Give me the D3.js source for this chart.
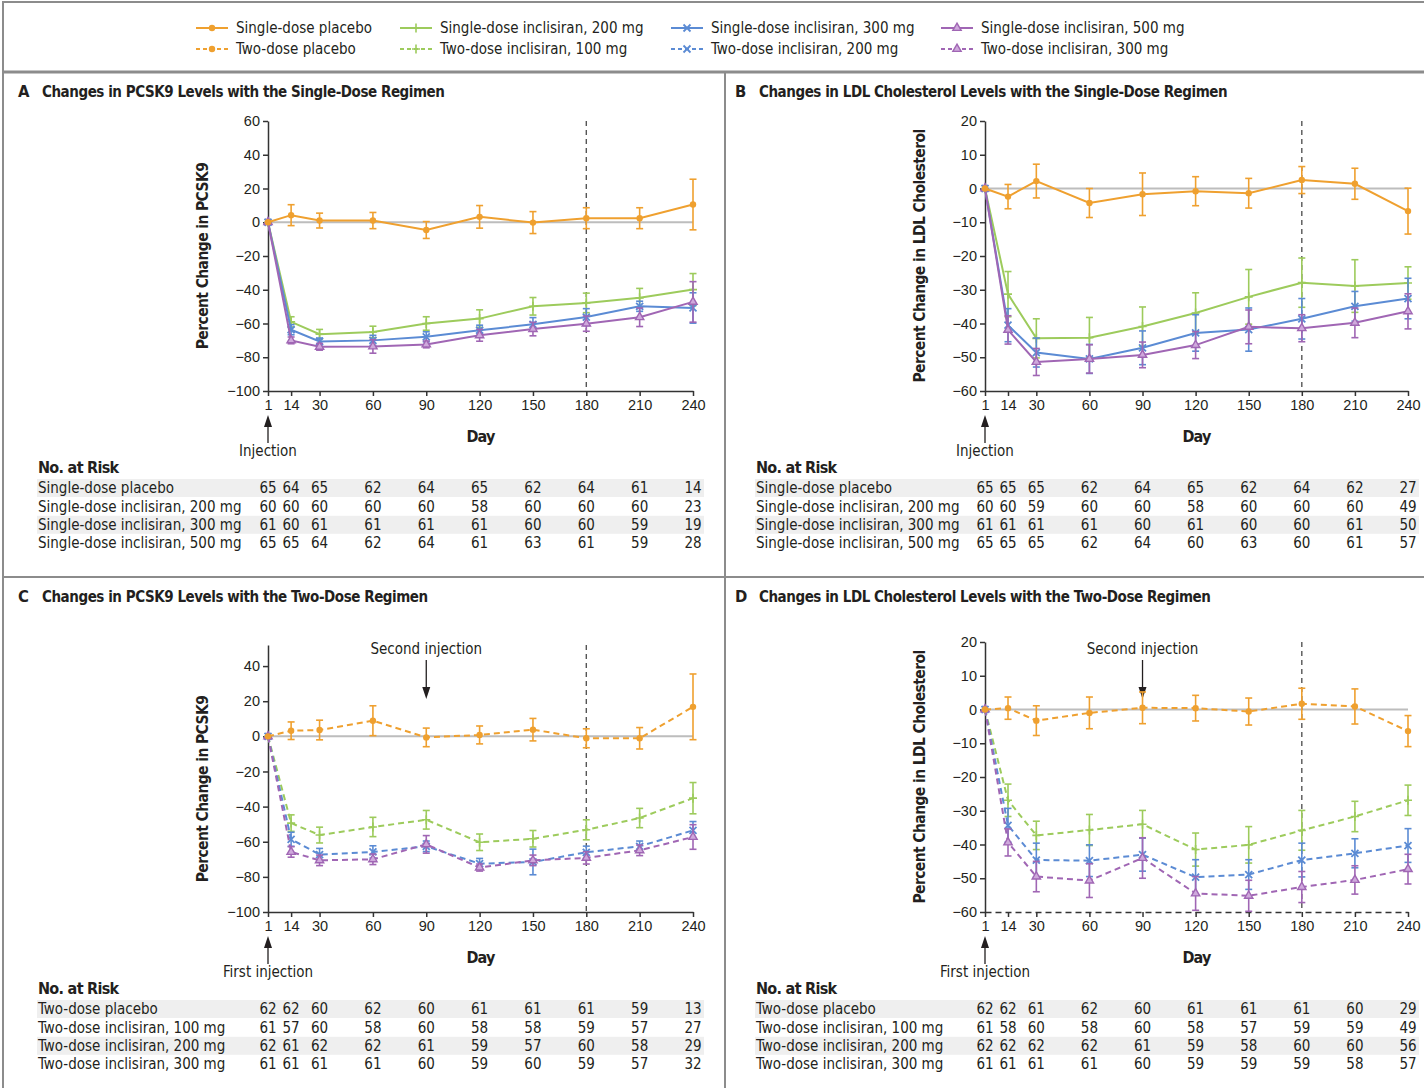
<!DOCTYPE html>
<html>
<head>
<meta charset="utf-8">
<script src="https://cdn.jsdelivr.net/npm/d3@7"></script>
<style>
  body { margin: 0; background: #fff; }
  svg { display: block; font-family: "Liberation Sans Narrow", "DejaVu Sans Condensed", "Liberation Sans", sans-serif; }
</style>
</head>
<body>
<svg id="chart" width="1424" height="1088"></svg>
<script>
const days = [1, 14, 30, 60, 90, 120, 150, 180, 210, 240];
const colors = ["#EFA02F", "#9DCB5C", "#5B8BD4", "#A066B4"];
const markers = ["circle", "plus", "cross", "triangle"];
const singleGroups = ["Single-dose placebo", "Single-dose inclisiran, 200 mg", "Single-dose inclisiran, 300 mg", "Single-dose inclisiran, 500 mg"];
const twoGroups = ["Two-dose placebo", "Two-dose inclisiran, 100 mg", "Two-dose inclisiran, 200 mg", "Two-dose inclisiran, 300 mg"];

// A: PCSK9, single dose
const aMeans = [
  [0, 4.2, 1, 1, -4.6, 3.2, -0.2, 2.4, 2.4, 10.5],
  [0, -59, -66.3, -65, -60, -57.1, -49.8, -47.8, -44.8, -39.9],
  [0, -63.7, -70.6, -70, -67.9, -64, -60.5, -56.2, -49.8, -50.8],
  [0, -70, -73.8, -73.6, -72.4, -67, -63.3, -60.1, -56.3, -47.2]
];
const aErrs = [
  [0, 6.2, 4.4, 4.8, 5, 6.7, 6.5, 6.2, 6.2, 15],
  [0, 3, 2.8, 3.4, 4, 5.2, 5.2, 5.8, 5.6, 9.5],
  [0, 3, 2, 3, 3, 3, 4, 5, 3, 9],
  [0, 2, 2, 4, 2, 3.5, 4, 4.5, 5.5, 12]
];
const aRisk = [
  [65, 64, 65, 62, 64, 65, 62, 64, 61, 14],
  [60, 60, 60, 60, 60, 58, 60, 60, 60, 23],
  [61, 60, 61, 61, 61, 61, 60, 60, 59, 19],
  [65, 65, 64, 62, 64, 61, 63, 61, 59, 28]
];

// B: LDL cholesterol, single dose
const bMeans = [
  [0, -2.4, 2.2, -4.3, -1.7, -0.8, -1.4, 2.5, 1.4, -6.7],
  [0, -31.3, -44.4, -44.2, -40.9, -36.9, -32.1, -27.9, -28.9, -28],
  [0, -40.5, -48.6, -50.5, -47.2, -42.8, -41.8, -38.6, -34.9, -32.6],
  [0, -41.9, -51.4, -50.5, -49.3, -46.4, -41, -41.4, -39.8, -36.4]
];
const bErrs = [
  [0, 3.6, 5, 4.3, 6.3, 4.3, 4.4, 4, 4.6, 6.8],
  [0, 6.7, 5.8, 6, 5.8, 6, 8.1, 7.3, 7.8, 4.8],
  [0, 4.9, 4.3, 4.3, 5, 5.4, 6.4, 6, 4.4, 6],
  [0, 4.2, 4, 4.2, 3.8, 4, 5, 4, 4.4, 5.2]
];
const bRisk = [
  [65, 65, 65, 62, 64, 65, 62, 64, 62, 27],
  [60, 60, 59, 60, 60, 58, 60, 60, 60, 49],
  [61, 61, 61, 61, 60, 61, 60, 60, 61, 50],
  [65, 65, 65, 62, 64, 60, 63, 60, 61, 57]
];

// C: PCSK9, two doses
const cMeans = [
  [0, 3.2, 3.6, 8.9, -0.6, 0.8, 3.8, -1.1, -1.1, 16.8],
  [0, -49.4, -56.2, -51.6, -47.5, -60.3, -58.3, -53.2, -46.5, -35.2],
  [0, -58.6, -67.3, -65.8, -62.6, -72.5, -71.5, -66, -62.6, -53.5],
  [0, -65.8, -70.6, -70, -61.5, -74.7, -70.6, -69.2, -64.9, -57.3]
];
const cErrs = [
  [0, 5, 5.6, 8.5, 5.3, 5.1, 6.4, 5.4, 6.1, 18.7],
  [0, 4.7, 4.5, 5.5, 5.3, 4.7, 4.7, 5.7, 5.5, 8.9],
  [0, 4, 3.5, 3.5, 3, 3, 7.3, 3.5, 3, 5],
  [0, 3, 3, 3, 5, 2, 3, 3.5, 3, 7]
];
const cRisk = [
  [62, 62, 60, 62, 60, 61, 61, 61, 59, 13],
  [61, 57, 60, 58, 60, 58, 58, 59, 57, 27],
  [62, 61, 62, 62, 61, 59, 57, 60, 58, 29],
  [61, 61, 61, 61, 60, 59, 60, 59, 57, 32]
];

// D: LDL cholesterol, two doses
const dMeans = [
  [0, 0.4, -3.3, -1, 0.5, 0.4, -0.6, 1.7, 0.9, -6.4],
  [0, -26.9, -37.3, -35.7, -34, -41.5, -40.1, -35.8, -31.7, -26.9],
  [0, -34.3, -44.6, -44.8, -43, -49.7, -48.9, -44.6, -42.6, -40.3],
  [0, -39.4, -49.5, -50.7, -44, -54.5, -55.2, -52.6, -50.5, -47.3]
];
const dErrs = [
  [0, 3.3, 4.4, 4.7, 4.7, 3.8, 4, 4.6, 5.2, 4.6],
  [0, 4.8, 4.2, 4.6, 4.1, 4.9, 5.4, 5.9, 4.5, 4.5],
  [0, 5, 5, 4.7, 4.9, 5.2, 4.4, 5, 4.3, 5],
  [0, 4, 4.5, 5, 6, 5, 4.6, 4.6, 4.2, 4.4]
];
const dRisk = [
  [62, 62, 61, 62, 60, 61, 61, 61, 60, 29],
  [61, 58, 60, 58, 60, 58, 57, 59, 59, 49],
  [62, 62, 62, 62, 61, 59, 58, 60, 60, 56],
  [61, 61, 61, 61, 60, 59, 59, 59, 58, 57]
];

const pcsk9Ticks = [-100, -80, -60, -40, -20, 0, 20, 40, 60];
const pcsk9TicksC = [-100, -80, -60, -40, -20, 0, 20, 40];
const ldlTicks = [-60, -50, -40, -30, -20, -10, 0, 10, 20];

const svg = d3.select("#chart");
const ink = "#231f20";
const frame = "#8c8c8c";

// frame
svg.append("line").attr("x1", 2).attr("x2", 1424).attr("y1", 2).attr("y2", 2).attr("stroke", frame).attr("stroke-width", 2);
svg.append("line").attr("x1", 3).attr("x2", 3).attr("y1", 2).attr("y2", 1088).attr("stroke", frame).attr("stroke-width", 2);
svg.append("line").attr("x1", 2).attr("x2", 1424).attr("y1", 72).attr("y2", 72).attr("stroke", frame).attr("stroke-width", 3);
svg.append("line").attr("x1", 2).attr("x2", 1424).attr("y1", 577).attr("y2", 577).attr("stroke", frame).attr("stroke-width", 2);
svg.append("line").attr("x1", 725).attr("x2", 725).attr("y1", 72).attr("y2", 1088).attr("stroke", frame).attr("stroke-width", 2);

function drawMarker(g, type, cx, cy, color) {
  if (type === "circle") {
    g.append("circle").attr("cx", cx).attr("cy", cy).attr("r", 3.2).attr("fill", color);
  } else if (type === "plus") {
    g.append("path").attr("d", `M${cx - 4},${cy}H${cx + 4}M${cx},${cy - 4.5}V${cy + 4.5}`)
      .attr("stroke", color).attr("stroke-width", 1.6).attr("fill", "none");
  } else if (type === "cross") {
    g.append("path").attr("d", `M${cx - 3.5},${cy - 3.5}L${cx + 3.5},${cy + 3.5}M${cx - 3.5},${cy + 3.5}L${cx + 3.5},${cy - 3.5}`)
      .attr("stroke", color).attr("stroke-width", 1.8).attr("fill", "none");
  } else {
    g.append("path").attr("d", d3.symbol(d3.symbolTriangle, 30)())
      .attr("transform", `translate(${cx},${cy})`)
      .attr("fill", "#cfa9dc").attr("stroke", color).attr("stroke-width", 1.4);
  }
}

// legend
const legendTextX = [236, 440, 711, 981];
[singleGroups, twoGroups].forEach((names, row) => {
  const ly = 28 + row * 21;
  names.forEach((name, i) => {
    const x0 = legendTextX[i] - 40, x1 = legendTextX[i] - 8;
    svg.append("line").attr("x1", x0).attr("x2", x1).attr("y1", ly).attr("y2", ly)
      .attr("stroke", colors[i]).attr("stroke-width", 2)
      .attr("stroke-dasharray", row ? "4,3" : null);
    drawMarker(svg, markers[i], (x0 + x1) / 2, ly, colors[i]);
    svg.append("text").attr("x", legendTextX[i]).attr("y", ly).attr("dy", "0.35em")
      .attr("font-size", 15).attr("fill", ink).text(name);
  });
});

function arrow(g, x, yTail, yTip) {
  const dir = yTip < yTail ? 1 : -1;
  g.append("line").attr("x1", x).attr("x2", x).attr("y1", yTail).attr("y2", yTip + dir * 8)
    .attr("stroke", ink).attr("stroke-width", 1.3);
  g.append("path").attr("d", `M${x},${yTip}L${x - 4},${yTip + dir * 12}L${x + 4},${yTip + dir * 12}Z`).attr("fill", ink);
}

function drawPanel(p) {
  const g = svg.append("g");
  const x = d3.scaleLinear().domain([1, 240]).range(p.xr);
  const y = d3.scaleLinear().domain(p.yd).range(p.yr);
  const bottom = p.yr[0], top = y(p.yd[1]);

  g.append("text").attr("x", p.titleX).attr("y", p.titleY).attr("font-size", 16.5).attr("font-weight", "bold")
    .attr("fill", ink).text(p.letter);
  g.append("text").attr("x", p.titleX + 24).attr("y", p.titleY).attr("font-size", 15).attr("font-weight", "bold")
    .attr("letter-spacing", -0.45).attr("fill", ink).text(p.title);

  g.append("text").attr("transform", `translate(${p.labelX},${(bottom + y(p.yTicks[p.yTicks.length - 1])) / 2}) rotate(-90)`)
    .attr("text-anchor", "middle").attr("font-size", 15.5).attr("font-weight", "bold")
    .attr("letter-spacing", -0.6).attr("fill", ink).text(p.yLabel);

  // zero line and day-180 reference
  g.append("line").attr("x1", x(1)).attr("x2", x(240)).attr("y1", y(0)).attr("y2", y(0))
    .attr("stroke", "#bdbdbd").attr("stroke-width", 2);
  g.append("line").attr("x1", x(180)).attr("x2", x(180)).attr("y1", top).attr("y2", bottom)
    .attr("stroke", "#555").attr("stroke-width", 1.4).attr("stroke-dasharray", "5,4");

  const yAxis = g.append("g").attr("transform", `translate(${p.xr[0]},0)`)
    .call(d3.axisLeft(y).tickValues(p.yTicks).tickSize(5).tickSizeOuter(0).tickPadding(3));
  const xAxis = g.append("g").attr("transform", `translate(0,${bottom})`)
    .call(d3.axisBottom(x).tickValues(days).tickSize(5).tickSizeOuter(0).tickPadding(4));
  [yAxis, xAxis].forEach(a => {
    a.selectAll("path, line").attr("stroke", "#333").attr("stroke-width", 1.5);
    a.selectAll("text").attr("font-size", 14.5).attr("fill", ink).attr("font-family", null);
  });
  if (p.dashedBase) xAxis.select(".domain").attr("stroke-dasharray", "6,4");

  g.append("text").attr("x", (x(1) + x(240)) / 2).attr("y", bottom + 51).attr("text-anchor", "middle")
    .attr("font-size", 16).attr("font-weight", "bold").attr("letter-spacing", -0.8).attr("fill", ink).text("Day");

  // injection annotations
  arrow(g, x(1), bottom + 52, bottom + 24);
  g.append("text").attr("x", x(1)).attr("y", bottom + 65).attr("text-anchor", "middle")
    .attr("font-size", 15).attr("fill", ink).text(p.firstLabel);
  if (p.second) {
    g.append("text").attr("x", x(90)).attr("y", 654).attr("text-anchor", "middle")
      .attr("font-size", 15).attr("fill", ink).text("Second injection");
    arrow(g, x(90), 660, 699);
  }

  // series: error bars, lines, markers
  const order = [1, 2, 3, 0];
  order.forEach(i => {
    const pts = days.map((d, j) => ({ d, m: p.means[i][j], e: p.errs[i][j] }));
    const eg = g.append("g").attr("stroke", colors[i]).attr("stroke-width", 1.6);
    pts.filter(q => q.e > 0).forEach(q => {
      eg.append("line").attr("x1", x(q.d)).attr("x2", x(q.d)).attr("y1", y(q.m - q.e)).attr("y2", y(q.m + q.e));
      [q.m - q.e, q.m + q.e].forEach(v => eg.append("line").attr("x1", x(q.d) - 3.5).attr("x2", x(q.d) + 3.5)
        .attr("y1", y(v)).attr("y2", y(v)));
    });
    g.append("path").datum(pts)
      .attr("d", d3.line().x(q => x(q.d)).y(q => y(q.m)))
      .attr("fill", "none").attr("stroke", colors[i]).attr("stroke-width", 2)
      .attr("stroke-dasharray", p.dashed ? "6,4" : null);
    pts.forEach(q => drawMarker(g, markers[i], x(q.d), y(q.m), colors[i]));
  });

  // number at risk table
  g.append("text").attr("x", p.tableX).attr("y", p.riskY).attr("dy", "0.35em")
    .attr("font-size", 16).attr("font-weight", "bold").attr("letter-spacing", -0.7).attr("fill", ink).text("No. at Risk");
  p.risk.forEach((row, r) => {
    const ry = p.riskY + 21 + r * 18.4;
    if (r % 2 === 0) {
      g.append("rect").attr("x", p.tableX - 1).attr("y", ry - 9).attr("width", x(240) + 12 - p.tableX)
        .attr("height", 18).attr("fill", "#efefef");
    }
    g.append("text").attr("x", p.tableX).attr("y", ry).attr("dy", "0.35em")
      .attr("font-size", 15).attr("fill", ink).text(p.groups[r]);
    row.forEach((n, j) => {
      g.append("text").attr("x", x(days[j])).attr("y", ry).attr("dy", "0.35em").attr("text-anchor", "middle")
        .attr("font-size", 15).attr("fill", ink).text(n);
    });
  });
}

drawPanel({ letter: "A", title: "Changes in PCSK9 Levels with the Single-Dose Regimen", titleX: 18, titleY: 97,
  xr: [268, 693], yd: [-100, 60], yr: [391, 121], yTicks: pcsk9Ticks, labelX: 208, yLabel: "Percent Change in PCSK9",
  means: aMeans, errs: aErrs, risk: aRisk, groups: singleGroups, tableX: 38, riskY: 467,
  firstLabel: "Injection", second: false, dashed: false });
drawPanel({ letter: "B", title: "Changes in LDL Cholesterol Levels with the Single-Dose Regimen", titleX: 735, titleY: 97,
  xr: [985, 1408], yd: [-60, 20], yr: [391, 121], yTicks: ldlTicks, labelX: 925, yLabel: "Percent Change in LDL Cholesterol",
  means: bMeans, errs: bErrs, risk: bRisk, groups: singleGroups, tableX: 756, riskY: 467,
  firstLabel: "Injection", second: false, dashed: false });
drawPanel({ letter: "C", title: "Changes in PCSK9 Levels with the Two-Dose Regimen", titleX: 18, titleY: 602,
  xr: [268, 693], yd: [-100, 52], yr: [912, 645], yTicks: pcsk9TicksC, labelX: 208, yLabel: "Percent Change in PCSK9",
  means: cMeans, errs: cErrs, risk: cRisk, groups: twoGroups, tableX: 38, riskY: 988,
  firstLabel: "First injection", second: true, dashed: true });
drawPanel({ letter: "D", title: "Changes in LDL Cholesterol Levels with the Two-Dose Regimen", titleX: 735, titleY: 602,
  xr: [985, 1408], yd: [-60, 20], yr: [912, 642], yTicks: ldlTicks, labelX: 925, yLabel: "Percent Change in LDL Cholesterol",
  means: dMeans, errs: dErrs, risk: dRisk, groups: twoGroups, tableX: 756, riskY: 988,
  firstLabel: "First injection", second: true, dashed: true, dashedBase: true });
</script>
</body>
</html>
